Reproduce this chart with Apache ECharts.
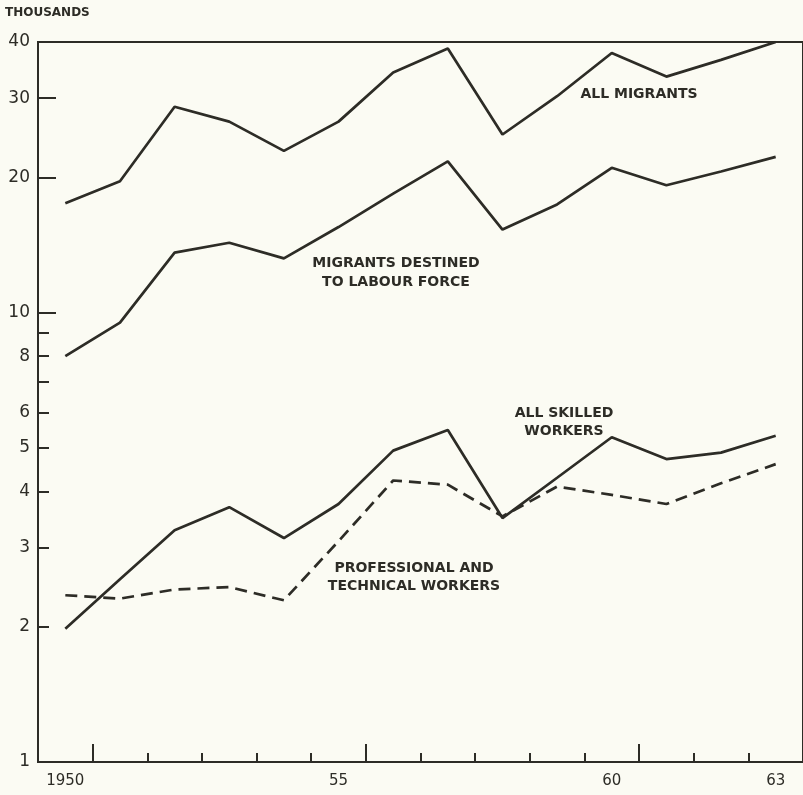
<!DOCTYPE html>
<html>
<head>
<meta charset="utf-8">
<script src="https://cdn.jsdelivr.net/npm/echarts@6/dist/echarts.min.js"></script>
<style>
html,body{margin:0;padding:0;background:#fbfbf3;}
#chart{width:803px;height:795px;}
</style>
</head>
<body>
<div id="chart"></div>
<script>
// Data (thousands)
var years = ['1950','1951','1952','1953','1954','1955','1956','1957','1958','1959','1960','1961','1962','1963'];
var yearLabels = {'1950':'1950','1955':'55','1960':'60','1963':'63'};
var allMigrants = [17.5, 19.6, 28.7, 26.6, 22.9, 26.6, 34.2, 38.7, 24.9, 30.3, 37.8, 33.5, 36.5, 40.0];
var labourForce = [8.0, 9.5, 13.6, 14.3, 13.2, 15.5, 18.4, 21.7, 15.3, 17.4, 21.0, 19.2, 20.6, 22.2];
var skilledWorkers = [1.98, 2.55, 3.28, 3.69, 3.15, 3.75, 4.93, 5.48, 3.49, 4.29, 5.28, 4.72, 4.88, 5.32];
var professional = [2.35, 2.31, 2.42, 2.45, 2.29, 3.10, 4.23, 4.14, 3.52, 4.10, 3.93, 3.75, 4.17, 4.60];
var yLabelValues = [1, 2, 3, 4, 5, 6, 8, 10, 20, 30, 40];
var yMinorTicks = [2, 3, 4, 5, 6, 7, 8, 9];
var yMajorTicks = [10, 20, 30];
var majorXTickIndex = [1, 6, 11];

var INK = '#2d2c26';
var FONT = 'DejaVu Sans';
var chart = echarts.init(document.getElementById('chart'), null, {renderer:'canvas'});

function lineSeries(name, data, dashed) {
  return {
    name: name, type: 'line', data: data, xAxisIndex: 0, yAxisIndex: 0,
    symbol: 'none', silent: true, animation: false,
    lineStyle: {color: INK, width: 2.7, type: dashed ? [12, 7] : 'solid'}
  };
}

var option = {
  backgroundColor: '#fbfbf3',
  animation: false,
  grid: {left: 38, right: -3, top: 42, bottom: 33, show: true, borderColor: INK, borderWidth: 2, backgroundColor: 'transparent'},
  xAxis: [{
    type: 'category', data: years, boundaryGap: true, position: 'bottom',
    axisLine: {show: true, lineStyle: {color: INK, width: 2}},
    axisTick: {show: true, inside: true, length: 9, interval: 0, lineStyle: {color: INK, width: 2}},
    axisLabel: {show: true, interval: 0, margin: 12, color: INK, fontFamily: FONT, fontSize: 15,
      formatter: function (v) { return yearLabels[v] || ''; }},
    splitLine: {show: false}
  }, {
    type: 'category', data: years, boundaryGap: true, position: 'bottom',
    axisLine: {show: false},
    axisTick: {show: true, inside: true, length: 18,
      interval: function (i) { return majorXTickIndex.indexOf(i) >= 0; },
      lineStyle: {color: INK, width: 2}},
    axisLabel: {show: false},
    splitLine: {show: false}
  }],
  yAxis: [{
    type: 'log', logBase: 10, min: 1, max: 40, position: 'left',
    axisLine: {show: true, lineStyle: {color: INK, width: 2}},
    axisTick: {show: true, inside: true, length: 11, customValues: yMinorTicks, lineStyle: {color: INK, width: 2}},
    axisLabel: {show: true, margin: 8, color: INK, fontFamily: FONT, fontSize: 17, customValues: yLabelValues,
      formatter: function (v) { return String(Math.round(v)); }},
    splitLine: {show: false}, minorTick: {show: false}
  }, {
    type: 'log', logBase: 10, min: 1, max: 40, position: 'left',
    axisLine: {show: false},
    axisTick: {show: true, inside: true, length: 18, customValues: yMajorTicks, lineStyle: {color: INK, width: 2}},
    axisLabel: {show: false},
    splitLine: {show: false}
  }],
  series: [
    lineSeries('All migrants', allMigrants, false),
    lineSeries('Migrants destined to labour force', labourForce, false),
    lineSeries('All skilled workers', skilledWorkers, false),
    lineSeries('Professional and technical workers', professional, true)
  ],
  graphic: [
    {type: 'text', left: 5, top: 7, style: {text: 'THOUSANDS', fill: INK, font: 'bold 12px "DejaVu Sans"'}},
    {type: 'text', x: 639, y: 94, style: {text: 'ALL MIGRANTS', fill: INK, font: 'bold 14px "DejaVu Sans"', align: 'center', verticalAlign: 'middle'}},
    {type: 'text', x: 396, y: 273, style: {text: 'MIGRANTS DESTINED\nTO LABOUR FORCE', fill: INK, font: 'bold 14px "DejaVu Sans"', align: 'center', verticalAlign: 'middle', lineHeight: 19}},
    {type: 'text', x: 564, y: 422, style: {text: 'ALL SKILLED\nWORKERS', fill: INK, font: 'bold 14px "DejaVu Sans"', align: 'center', verticalAlign: 'middle', lineHeight: 18}},
    {type: 'text', x: 414, y: 577, style: {text: 'PROFESSIONAL AND\nTECHNICAL WORKERS', fill: INK, font: 'bold 14px "DejaVu Sans"', align: 'center', verticalAlign: 'middle', lineHeight: 18}}
  ]
};
chart.setOption(option);
</script>
</body>
</html>
